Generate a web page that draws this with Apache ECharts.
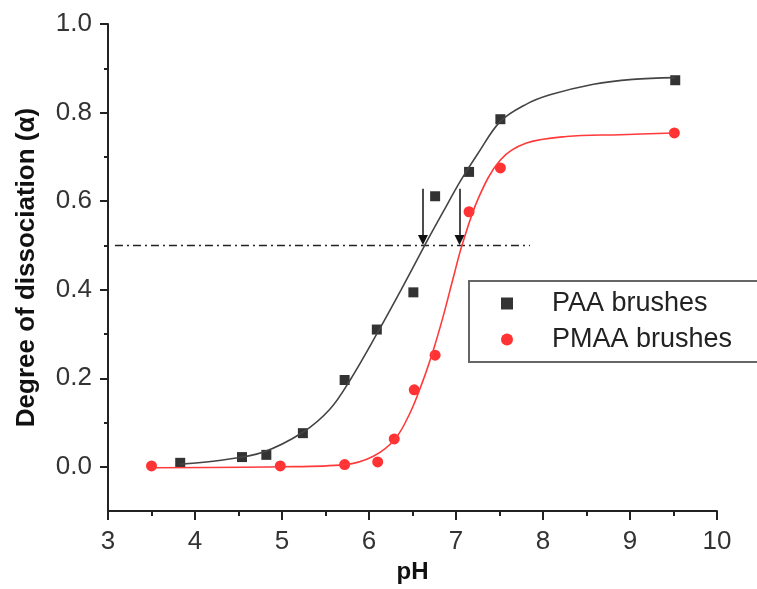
<!DOCTYPE html>
<html>
<head>
<meta charset="utf-8">
<script src="https://cdn.jsdelivr.net/npm/echarts@6/dist/echarts.min.js"></script>
<style>
  html, body { margin: 0; padding: 0; background: #fff; }
  #chart { width: 757px; height: 589px; }
</style>
</head>
<body>
<div id="chart"></div>
<script>
// measured points
const paaPH = [3.83, 4.54, 4.82, 5.24, 5.72, 6.09, 6.51, 6.76, 7.15, 7.51, 9.52];
const paaAlpha = [0.009, 0.022, 0.027, 0.076, 0.196, 0.310, 0.394, 0.611, 0.666, 0.785, 0.873];
const pmaaPH = [3.50, 4.98, 5.72, 6.10, 6.29, 6.52, 6.76, 7.15, 7.51, 9.51];
const pmaaAlpha = [0.002, 0.002, 0.005, 0.011, 0.063, 0.174, 0.252, 0.576, 0.675, 0.754];

// fitted curves
const paaFitPH = [3.83, 4.30, 4.78, 5.24, 5.55, 5.78, 6.09, 6.37, 6.64, 6.85, 7.05, 7.25, 7.51, 7.80, 8.08, 8.58, 9.03, 9.52];
const paaFitAlpha = [0.006, 0.015, 0.033, 0.078, 0.130, 0.195, 0.300, 0.400, 0.500, 0.575, 0.645, 0.707, 0.780, 0.818, 0.840, 0.864, 0.875, 0.879];
const pmaaFitPH = [3.50, 4.98, 5.72, 6.05, 6.30, 6.47, 6.61, 6.74, 6.85, 6.97, 7.07, 7.26, 7.51, 7.81, 8.27, 8.89, 9.50];
const pmaaFitAlpha = [-0.002, 0.000, 0.005, 0.024, 0.063, 0.121, 0.189, 0.264, 0.338, 0.428, 0.501, 0.608, 0.693, 0.731, 0.746, 0.750, 0.754];

// alpha = 0.5 reference line and the two pKa arrows
const refLinePH = [3.08, 7.85];
const refLineAlpha = [0.5, 0.5];
const arrowPH = [6.62, 7.04];
const arrowTop = 0.628;
const arrowTip = 0.512;

const yTickValues = [0, 0.2, 0.4, 0.6, 0.8, 1.0];
const yMinorValues = [0.1, 0.3, 0.5, 0.7, 0.9];

const FONT = 'Liberation Sans, Arial, sans-serif';
const pairs = (xs, ys) => xs.map((x, i) => [x, ys[i]]);

const chart = echarts.init(document.getElementById('chart'));

chart.setOption({
  animation: false,
  backgroundColor: '#fff',
  grid: { left: 108, right: 40, top: 24, bottom: 72 },
  legend: {
    data: ['PAA brushes', 'PMAA brushes'],
    orient: 'vertical',
    left: 469,
    top: 281,
    padding: [9, 60, 9, 32],
    itemGap: 9,
    itemWidth: 12,
    itemHeight: 12,
    borderColor: '#666',
    borderWidth: 2,
    textStyle: { fontFamily: FONT, fontSize: 27, color: '#222', padding: [0, 0, 0, 34] }
  },
  xAxis: {
    type: 'value',
    min: 3,
    max: 10,
    interval: 1,
    name: 'pH',
    nameLocation: 'middle',
    nameGap: 48,
    nameTextStyle: { fontFamily: FONT, fontSize: 24, fontWeight: 'bold', color: '#111' },
    axisLine: { onZero: false, lineStyle: { color: '#222', width: 2 } },
    axisTick: { length: 9, lineStyle: { color: '#222', width: 2 } },
    minorTick: { show: true, splitNumber: 2, length: 5, lineStyle: { color: '#222', width: 2 } },
    axisLabel: { fontFamily: FONT, fontSize: 26, color: '#333', margin: 18 },
    splitLine: { show: false }
  },
  yAxis: [
    {
      type: 'value',
      min: -0.1,
      max: 1.0,
      name: 'Degree of dissociation (α)',
      nameLocation: 'middle',
      nameGap: 68,
      nameTextStyle: { fontFamily: FONT, fontSize: 26, fontWeight: 'bold', color: '#111' },
      axisLine: { show: true, onZero: false, lineStyle: { color: '#222', width: 2 } },
      axisTick: { customValues: yTickValues, length: 8, lineStyle: { color: '#222', width: 2 } },
      axisLabel: {
        customValues: yTickValues,
        fontFamily: FONT, fontSize: 26, color: '#333', margin: 16,
        formatter: v => v.toFixed(1)
      },
      splitLine: { show: false }
    },
    {
      // minor ticks only
      type: 'value',
      position: 'left',
      min: -0.1,
      max: 1.0,
      axisLine: { show: false },
      axisTick: { customValues: yMinorValues, length: 4, lineStyle: { color: '#222', width: 2 } },
      axisLabel: { show: false },
      splitLine: { show: false }
    }
  ],
  series: [
    {
      name: 'ref',
      type: 'line',
      data: pairs(refLinePH, refLineAlpha),
      symbol: 'none',
      silent: true,
      lineStyle: { color: '#222', width: 1.5, type: [8, 4, 2, 4] },
      markLine: {
        silent: true,
        symbol: ['none', 'triangle'],
        symbolSize: 10,
        label: { show: false },
        itemStyle: { color: '#111' },
        lineStyle: { color: '#111', width: 1.5, type: 'solid' },
        data: arrowPH.map(x => [{ coord: [x, arrowTop] }, { coord: [x, arrowTip] }])
      }
    },
    {
      name: 'PAA fit',
      type: 'line',
      data: pairs(paaFitPH, paaFitAlpha),
      smooth: 0.35,
      symbol: 'none',
      lineStyle: { color: '#444', width: 1.6 }
    },
    {
      name: 'PMAA fit',
      type: 'line',
      data: pairs(pmaaFitPH, pmaaFitAlpha),
      smooth: 0.35,
      symbol: 'none',
      lineStyle: { color: '#ff3a3a', width: 1.6 }
    },
    {
      name: 'PAA brushes',
      type: 'scatter',
      data: pairs(paaPH, paaAlpha),
      symbol: 'rect',
      symbolSize: 10,
      itemStyle: { color: '#000' }
    },
    {
      name: 'PMAA brushes',
      type: 'scatter',
      data: pairs(pmaaPH, pmaaAlpha),
      symbol: 'circle',
      symbolSize: 11,
      itemStyle: { color: '#ff0000' }
    }
  ]
});
</script>
</body>
</html>
